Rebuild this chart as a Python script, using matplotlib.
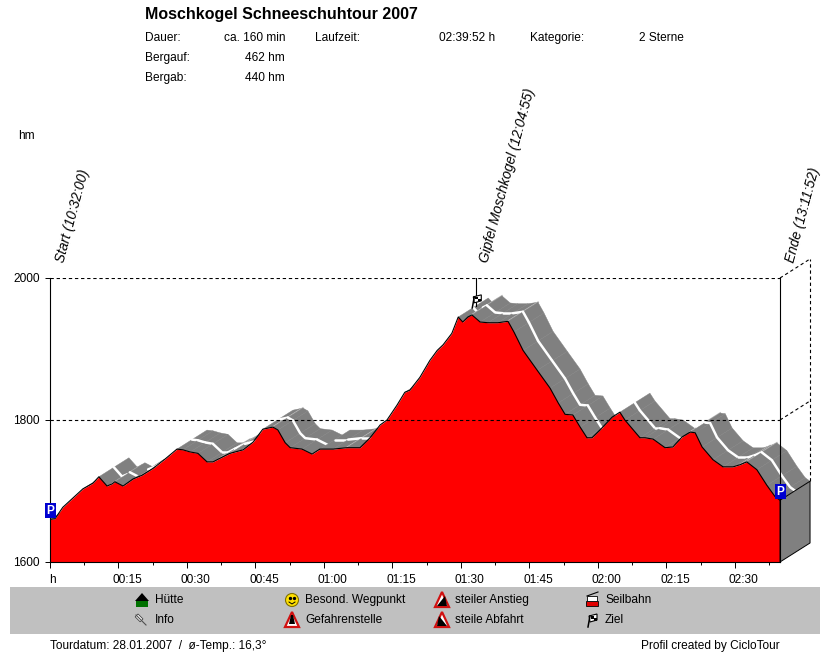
import matplotlib
matplotlib.use('Agg')
import matplotlib.pyplot as plt
from matplotlib.patches import Polygon, Rectangle, Circle

plt.rcParams['font.family'] = ['Liberation Sans', 'DejaVu Sans']

# elevation profile
minutes = [0, 1.1, 2.8, 5.0, 7.2, 9.4, 10.7, 12.5, 13.6, 14.2, 16.0, 18.2, 20.1, 22.6, 25.2, 27.8, 29.1, 30.7,
           32.4, 34.4, 35.7, 37.2, 39.4, 42.3, 44.5, 46.6, 48.8, 49.9, 51.5, 52.6, 55.2, 57.4, 59.1, 62.0,
           65.0, 67.9, 70.1, 72.3, 73.8, 76.0, 77.7, 78.8, 81.0, 83.2, 84.8, 86.1, 88.0, 89.4, 90.4, 91.5,
           92.4, 94.2, 95.9, 98.1, 100.3, 101.6, 103.6, 106.7, 109.5, 111.3, 112.8, 114.5, 116.1, 117.6,
           118.7, 120.9, 123.1, 124.8, 125.9, 129.2, 130.3, 132.1, 134.7, 136.4, 138.4, 140.2, 141.3, 142.8,
           145.2, 147.4, 149.6, 151.1, 152.6, 154.8, 157.0, 158.8, 159.87]
elevation = [1660, 1661, 1677, 1690, 1703, 1711, 1720, 1707, 1710, 1713, 1707, 1717, 1722, 1732, 1745, 1759, 1758, 1755,
             1753, 1741, 1741, 1746, 1753, 1758, 1769, 1787, 1790, 1786, 1768, 1761, 1759, 1752, 1759, 1759,
             1761, 1761, 1775, 1793, 1800, 1821, 1839, 1842, 1860, 1884, 1898, 1906, 1922, 1945, 1938, 1945,
             1948, 1938, 1937, 1937, 1939, 1924, 1898, 1870, 1845, 1824, 1808, 1807, 1790, 1775,
             1775, 1789, 1804, 1811, 1800, 1775, 1775, 1773, 1761, 1762, 1776, 1783, 1782, 1762,
             1744, 1734, 1734, 1737, 1741, 1730, 1708, 1692, 1687]

y_ticks = [1600, 1800, 2000]
x_ticks = [0, 15, 30, 45, 60, 75, 90, 105, 120, 135, 150]
x_labels = ['h', '00:15', '00:30', '00:45', '01:00', '01:15', '01:30', '01:45', '02:00', '02:15', '02:30']
x_end = 159.87
summit_t = 92.92
depth_t = 6.58
depth_h = 26.8

marker_labels = [('Start (10:32:00)', 0), ('Gipfel Moschkogel (12:04:55)', summit_t), ('Ende (13:11:52)', x_end)]
legend_items = [('Hütte', 155, 600), ('Info', 155, 620), ('Besond. Wegpunkt', 305, 600), ('Gefahrenstelle', 305, 620),
                ('steiler Anstieg', 455, 600), ('steile Abfahrt', 455, 620), ('Seilbahn', 605, 600), ('Ziel', 605, 620)]

fig = plt.figure(figsize=(8.3, 6.52), dpi=100)
ax = fig.add_axes([50/830, 90/652, 730/830, 284/652])
ax.set_xlim(0, x_end)
ax.set_ylim(1600, 2000)
ax.patch.set_alpha(0)

# 3d band behind the profile, painted left to right
z = 3.0
for i in range(len(minutes) - 1):
    t0, t1 = minutes[i], minutes[i + 1]
    h0, h1 = elevation[i], elevation[i + 1]
    slope = (h1 - h0) / (t1 - t0)
    if slope >= depth_h / depth_t:
        continue
    ax.add_patch(Polygon([(t0, h0), (t1, h1), (t1 + depth_t, h1 + depth_h), (t0 + depth_t, h0 + depth_h)],
                         closed=True, fc='#808080', ec='#808080', lw=0.3, clip_on=False, zorder=z))
    if slope > 0.5:
        # gentle climbs catch the light
        ax.plot([t1, t1 + depth_t], [h1, h1 + depth_h], color='#c0c0c0', lw=1.3, clip_on=False, zorder=z + 0.0005)
    ax.plot([t0 + depth_t / 2, t1 + depth_t / 2], [h0 + depth_h / 2, h1 + depth_h / 2], color='white',
            lw=1.8, solid_capstyle='round', clip_on=False, zorder=z + 0.001)
    z += 0.002

ax.fill_between(minutes, 1600, elevation, color='#ff0000', lw=0, zorder=5)
ax.plot(minutes, elevation, color='black', lw=0.8, zorder=5.1)

# end wall of the block
ax.add_patch(Polygon([(x_end, elevation[-1]), (x_end, 1600), (x_end + depth_t, 1600 + depth_h),
                      (x_end + depth_t, elevation[-1] + depth_h)], closed=True, fc='#808080', ec='black',
                     lw=0.7, clip_on=False, zorder=5.2))

# dashed box
for v in y_ticks[1:]:
    ax.plot([0, x_end], [v, v], color='black', lw=0.8, dashes=(3, 2.5), zorder=5.05)
    ax.plot([x_end, x_end + depth_t], [v, v + depth_h], color='black', lw=0.8, dashes=(3, 2.5), clip_on=False, zorder=2)
ax.plot([x_end + depth_t] * 2, [elevation[-1] + depth_h, y_ticks[-1] + depth_h], color='black', lw=0.8,
        dashes=(3, 2.5), clip_on=False, zorder=2)
ax.plot([summit_t + 0.4] * 2, [1960, 2000], color='black', lw=0.8, zorder=6)

ax.spines['top'].set_visible(False)
for s in ['left', 'right', 'bottom']:
    ax.spines[s].set_linewidth(0.8)
    ax.spines[s].set_zorder(6)

ax.set_yticks(y_ticks)
ax.set_yticklabels([str(v) for v in y_ticks], fontsize=8.6)
ax.tick_params(axis='y', length=3.6, width=0.7, pad=4)
ax.set_xticks(x_ticks)
ax.set_xticks([t + 7.5 for t in x_ticks], minor=True)
ax.set_xticklabels([])
ax.tick_params(axis='x', which='major', length=4.5, width=0.7)
ax.tick_params(axis='x', which='minor', length=2.5, width=0.7)
for t, lab in zip(x_ticks, x_labels):
    ax.annotate(lab, (t, 0), xycoords=('data', 'axes fraction'), xytext=(-6 if t else -1, -18),
                textcoords='offset pixels', fontsize=8.6, ha='left', va='center', annotation_clip=False)

# everything placed by page position goes on an overlay in pixels
ov = fig.add_axes([0, 0, 1, 1], zorder=10)
ov.set_xlim(0, 830)
ov.set_ylim(652, 0)
ov.axis('off')


def label(x, y, s, **kw):
    kw.setdefault('fontsize', 8.6)
    kw.setdefault('va', 'center')
    ov.text(x, y, s, **kw)


label(145, 14, 'Moschkogel Schneeschuhtour 2007', fontsize=11.5, fontweight='bold')
label(145, 38, 'Dauer:')
label(285, 38, 'ca. 160 min', ha='right')
label(315, 38, 'Laufzeit:')
label(495, 38, '02:39:52 h', ha='right')
label(530, 38, 'Kategorie:')
label(639, 38, '2 Sterne')
label(145, 58, 'Bergauf:')
label(285, 58, '462 hm', ha='right')
label(145, 78, 'Bergab:')
label(285, 78, '440 hm', ha='right')
label(18, 136, 'hm')

for s, t in marker_labels:
    ax.annotate(s, (t, 2000), xytext=(3, 18), textcoords='offset pixels', rotation=75, rotation_mode='anchor',
                fontsize=9.9, style='italic', ha='left', va='top', annotation_clip=False)

ov.add_patch(Rectangle((10, 587), 810, 47, fc='#c0c0c0', ec='none'))
for s, x, y in legend_items:
    label(x, y, s)
label(50, 646, 'Tourdatum: 28.01.2007  /  ø-Temp.: 16,3°')
label(780, 646, 'Profil created by CicloTour', ha='right')


def warn(x, y, inner):
    ov.add_patch(Polygon([(x, y - 8), (x - 7, y + 7), (x + 7, y + 7)], fc='white', ec='#d01010', lw=1.6))
    ov.add_patch(Polygon(inner, fc='black', ec='none'))


def flag(x, y):
    ov.plot([x - 4, x - 2], [y + 7, y - 4], color='black', lw=1.1, clip_on=False)
    ov.add_patch(Polygon([(x - 3, y - 4), (x + 5, y - 6), (x + 5, y), (x - 2, y + 2)], fc='white', ec='black', lw=0.8))
    ov.add_patch(Rectangle((x - 1, y - 4), 2.5, 2.5, fc='black', ec='none'))
    ov.add_patch(Rectangle((x + 2, y - 2), 2.5, 2.5, fc='black', ec='none'))


# legend icons
ov.add_patch(Rectangle((136, 600), 12, 7, fc='#007000', ec='none'))
ov.add_patch(Polygon([(135, 601), (142, 593), (149, 601)], fc='black', ec='none'))
ov.plot([136, 146], [615, 625], color='#505050', lw=0.8)
ov.add_patch(Rectangle((138, 614), 7, 4, angle=45, fc='white', ec='#404040', lw=0.6))
ov.add_patch(Circle((292, 600), 6.5, fc='#ffe000', ec='#807000', lw=0.8))
ov.plot([290, 294], [598, 598], ls='none', marker='o', ms=1.4, color='black')
ov.plot([289, 292, 295], [602, 604, 602], color='black', lw=0.7)
warn(292, 620, [(291, 615), (293, 615), (295, 624), (289, 624)])
warn(442, 600, [(437, 606), (445, 596), (447, 606)])
warn(442, 620, [(437, 626), (439, 616), (447, 626)])
ov.add_patch(Rectangle((586, 601), 12, 5, fc='#e00000', ec='black', lw=0.6))
ov.add_patch(Rectangle((587, 596), 10, 5, fc='white', ec='black', lw=0.6))
ov.plot([587, 598], [596, 592], color='black', lw=0.8)
flag(592, 620)

# summit flag and P signs sit on the profile
to_px = lambda t, h: (50 + t / x_end * 730, 562 - (h - 1600) * 0.71)
sx, sy = to_px(summit_t, 1965)
flag(sx + 2, sy - 2)
for t, h in [(minutes[0], elevation[0]), (minutes[-1], elevation[-1])]:
    px, py = to_px(t, h)
    ov.add_patch(Rectangle((px - 5.5, py - 16), 11, 15, fc='#0000d0', ec='none'))
    ov.text(px, py - 8.5, 'P', color='white', fontsize=8.6, fontweight='bold', ha='center', va='center')

fig.savefig('out.png', dpi=100)
